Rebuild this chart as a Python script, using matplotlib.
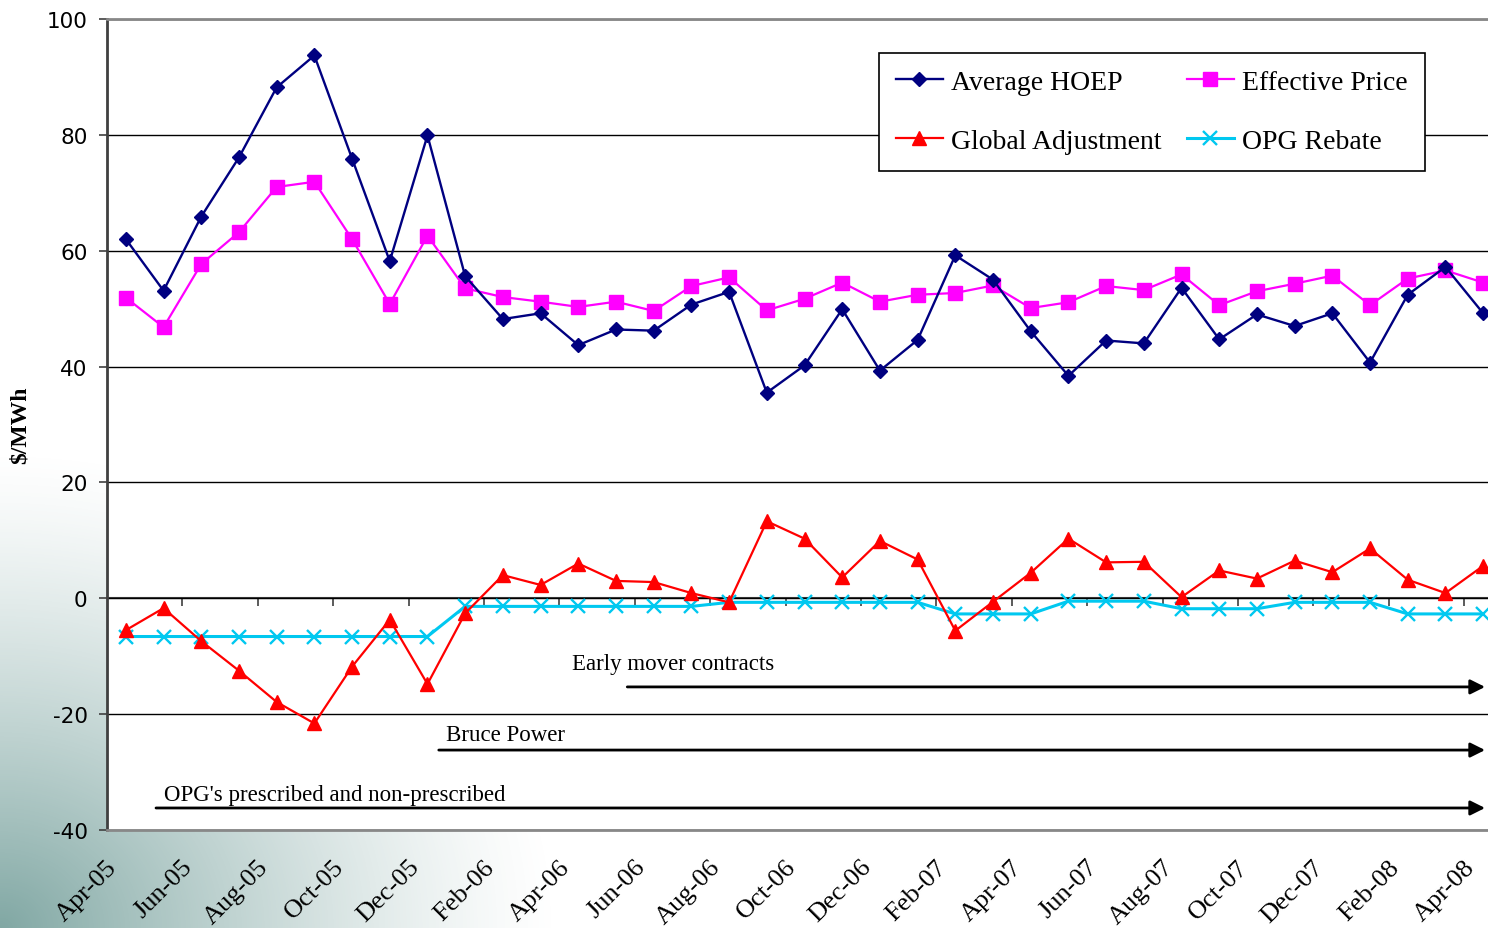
import numpy as np
import matplotlib
matplotlib.use('Agg')
import matplotlib.pyplot as plt
import matplotlib.transforms as mtransforms

plt.rcParams['axes.unicode_minus'] = False

# Monthly data, Apr-05 .. Apr-08 ($/MWh)

months = ['Apr-05', 'May-05', 'Jun-05', 'Jul-05', 'Aug-05', 'Sep-05', 'Oct-05', 'Nov-05', 'Dec-05',
          'Jan-06', 'Feb-06', 'Mar-06', 'Apr-06', 'May-06', 'Jun-06', 'Jul-06', 'Aug-06', 'Sep-06',
          'Oct-06', 'Nov-06', 'Dec-06', 'Jan-07', 'Feb-07', 'Mar-07', 'Apr-07', 'May-07', 'Jun-07',
          'Jul-07', 'Aug-07', 'Sep-07', 'Oct-07', 'Nov-07', 'Dec-07', 'Jan-08', 'Feb-08', 'Mar-08',
          'Apr-08']

hoep = [62.0, 53.1, 65.9, 76.1, 88.2, 93.7, 75.9, 58.2, 79.9, 55.6,
        48.2, 49.2, 43.7, 46.4, 46.2, 50.7, 52.9, 35.5, 40.2, 49.9,
        39.3, 44.6, 59.2, 55.0, 46.1, 38.4, 44.5, 44.0, 53.6, 44.7,
        49.0, 47.0, 49.2, 40.7, 52.4, 57.2, 49.2]

effective = [51.9, 46.8, 57.7, 63.2, 71.0, 71.9, 62.0, 50.8, 62.6, 53.5,
             52.0, 51.2, 50.3, 51.2, 49.6, 53.9, 55.4, 49.7, 51.7, 54.5,
             51.2, 52.4, 52.7, 54.0, 50.1, 51.1, 53.9, 53.2, 55.9, 50.6,
             53.0, 54.3, 55.7, 50.6, 55.2, 56.6, 54.5]

global_adj = [-5.5, -1.7, -7.4, -12.5, -17.9, -21.6, -11.8, -3.7, -14.8, -2.6,
              4.0, 2.3, 6.0, 3.0, 2.8, 0.9, -0.7, 13.3, 10.3, 3.6,
              9.9, 6.7, -5.6, -0.6, 4.4, 10.3, 6.2, 6.3, 0.2, 4.8,
              3.4, 6.5, 4.5, 8.6, 3.2, 0.9, 5.6]

opg_rebate = [-6.6, -6.6, -6.6, -6.6, -6.6, -6.6, -6.6, -6.6, -6.6, -1.4,
              -1.4, -1.4, -1.4, -1.4, -1.4, -1.4, -0.7, -0.7, -0.7, -0.7,
              -0.7, -0.7, -2.7, -2.7, -2.7, -0.5, -0.5, -0.5, -1.8, -1.8,
              -1.8, -0.7, -0.7, -0.7, -2.7, -2.7, -2.7]

W, H = 1488, 929
fig = plt.figure(figsize=(W / 100, H / 100), dpi=100)

# Slide background: teal wash in the lower-left corner
bg = fig.add_axes([0, 0, 1, 1], zorder=-10)
bg.set_axis_off()
yy, xx = np.mgrid[0:H, 0:W]
d = np.hypot(xx / 560.0, (H - yy) / 480.0)
alpha = np.clip(1 - d, 0, 1) ** 1.3 * 0.8
grad = np.zeros((H, W, 4))
grad[..., 0] = 0.38
grad[..., 1] = 0.57
grad[..., 2] = 0.55
grad[..., 3] = alpha
bg.imshow(grad, extent=(0, W, 0, H), origin='upper', aspect='auto')
bg.set_xlim(0, W)
bg.set_ylim(0, H)

ax = fig.add_axes([107 / W, 1 - 831 / H, 1395 / W, 811 / H])
ax.set_facecolor('white')

x = np.arange(len(months))

l1, = ax.plot(x, hoep, color='#000080', lw=1.7, marker='D', ms=7.5, zorder=4)
l2, = ax.plot(x, global_adj, color='#FF0000', lw=1.6, marker='^', ms=9.5, zorder=4)
l3, = ax.plot(x, effective, color='#FF00FF', lw=1.6, marker='s', ms=9.5, zorder=3)
l4, = ax.plot(x, opg_rebate, color='#00C8F0', lw=2.2, marker='x', ms=9.5, mew=1.7, zorder=3)

ax.set_xlim(-0.5, len(months) - 0.5)
ax.set_ylim(-40, 100)

ax.set_yticks(np.arange(-40, 101, 20))
ax.yaxis.grid(True, color='black', lw=1.0)
ax.set_axisbelow(True)
ax.tick_params(axis='y', direction='out', length=6, width=1.2, color='#404040',
               labelsize=15.5, pad=8)
for lab in ax.get_yticklabels():
    lab.set_fontfamily('DejaVu Sans')

ax.set_xticks(x[::2])
ax.set_xticklabels(months[::2], rotation=45, ha='right', va='center',
                   rotation_mode='anchor', fontsize=19, family='Liberation Serif')
ax.tick_params(axis='x', length=0, pad=24)
offset = mtransforms.ScaledTranslation(-0.12, 0, fig.dpi_scale_trans)
for lab in ax.get_xticklabels():
    lab.set_transform(lab.get_transform() + offset)

for side in ['top', 'bottom']:
    ax.spines[side].set_color('#888888')
    ax.spines[side].set_linewidth(2)
ax.spines['left'].set_color('#404040')
ax.spines['left'].set_linewidth(2)
ax.spines['right'].set_visible(False)

# Category axis crossing at zero, ticks every two months
zero_axis = ax.secondary_xaxis(40 / 140)
zero_axis.set_xticks(np.arange(1.5, len(months) - 1, 2))
zero_axis.tick_params(direction='out', length=6, width=1.2, color='#404040',
                      labelbottom=False, labeltop=False)
for side in ['top', 'bottom']:
    zero_axis.spines[side].set_color('#404040')
    zero_axis.spines[side].set_linewidth(1.5)

fig.text(20 / W, 1 - 425 / H, '$/MWh', rotation=90, ha='center', va='center',
         fontsize=17, fontweight='bold', family='Liberation Serif')

# Contract period arrows
arrow_kw = dict(arrowstyle='-|>', color='black', lw=2, mutation_scale=22,
                shrinkA=0, shrinkB=0)
ax.annotate('', xy=(36.05, -15.3), xytext=(13.3, -15.3), arrowprops=arrow_kw)
ax.annotate('', xy=(36.05, -26.2), xytext=(8.3, -26.2), arrowprops=arrow_kw)
ax.annotate('', xy=(36.05, -36.2), xytext=(0.8, -36.2), arrowprops=arrow_kw)

ax.text(11.84, -11.2, 'Early mover contracts', ha='left', va='center',
        fontsize=16.5, family='Liberation Serif')
ax.text(8.5, -23.6, 'Bruce Power', ha='left', va='center',
        fontsize=16.5, family='Liberation Serif')
ax.text(1.0, -33.8, "OPG's prescribed and non-prescribed", ha='left', va='center',
        fontsize=16.5, family='Liberation Serif')

leg = fig.legend([l1, l2, l3, l4],
                 ['Average HOEP', 'Global Adjustment', 'Effective Price', 'OPG Rebate'],
                 ncol=2, loc='upper left', bbox_to_anchor=(879 / W, 1 - 54 / H),
                 prop={'family': 'Liberation Serif', 'size': 20},
                 frameon=True, fancybox=False, framealpha=1, edgecolor='black',
                 handlelength=1.7, handletextpad=0.3, columnspacing=0.9,
                 labelspacing=1.2, borderpad=0.6, borderaxespad=0)
leg.get_frame().set_linewidth(1.2)

fig.savefig('out.png', dpi=100)
